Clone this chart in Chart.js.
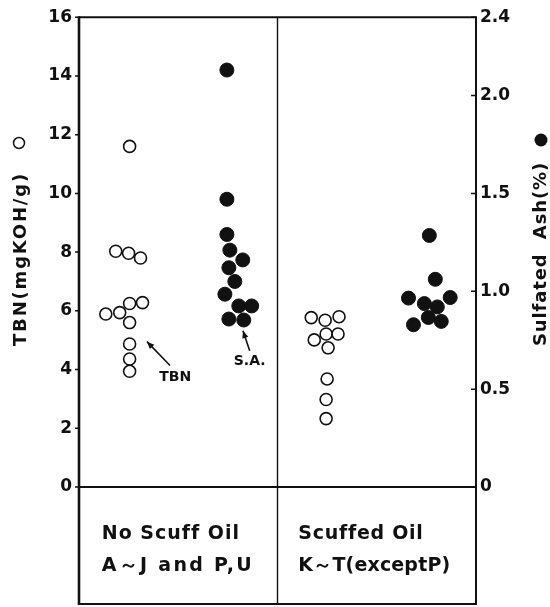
<!DOCTYPE html>
<html>
<head>
<meta charset="utf-8">
<script src="https://cdn.jsdelivr.net/npm/chart.js@4/dist/chart.umd.min.js"></script>
<style>
  html, body { margin: 0; padding: 0; background: #ffffff; }
  #wrap { width: 550px; height: 607px; }
</style>
</head>
<body>
<div id="wrap"><canvas id="c" width="550" height="607"></canvas></div>
<script>
// ---------- data ----------
const groupLabels = [['No Scuff Oil', 'A\uFF5EJ and P,U'], ['Scuffed Oil', 'K\uFF5ET(exceptP)']];
const tbnTicks = [0, 2, 4, 6, 8, 10, 12, 14, 16];
const ashTicks = [0, 0.5, 1.0, 1.5, 2.0, 2.4];
const ashTickLabels = ['0', '0.5', '1.0', '1.5', '2.0', '2.4'];

// No scuff oils (A~J and P,U): TBN (open circles, left axis)
const noScuffTbnX = [0.51, 0.37, 0.50, 0.62, 0.27, 0.41, 0.51, 0.64, 0.51, 0.51, 0.51, 0.51];
const noScuffTbnY = [11.6, 8.03, 7.96, 7.80, 5.89, 5.94, 6.25, 6.28, 5.60, 4.87, 4.36, 3.94];
// No scuff oils: sulfated ash (filled circles, right axis)
const noScuffAshX = [1.49, 1.49, 1.49, 1.52, 1.65, 1.51, 1.57, 1.47, 1.61, 1.74, 1.51, 1.66];
const noScuffAshY = [2.13, 1.47, 1.29, 1.21, 1.16, 1.12, 1.05, 0.985, 0.925, 0.925, 0.858, 0.853];
// Scuffed oils (K~T except P): TBN
const scuffTbnX = [2.34, 2.48, 2.62, 2.37, 2.49, 2.61, 2.51, 2.50, 2.49, 2.49];
const scuffTbnY = [5.77, 5.68, 5.80, 5.01, 5.21, 5.21, 4.74, 3.68, 2.98, 2.33];
// Scuffed oils: sulfated ash
const scuffAshX = [3.53, 3.59, 3.32, 3.74, 3.48, 3.61, 3.52, 3.37, 3.65];
const scuffAshY = [1.285, 1.061, 0.965, 0.968, 0.937, 0.920, 0.866, 0.829, 0.846];

// annotation anchors (data units: x, TBN)
const tbnNote = { label: 'TBN', x: 0.99, y: 3.73, fromX: 0.917, fromY: 4.14, toX: 0.685, toY: 4.95 };
const saNote  = { label: 'S.A.', x: 1.74, y: 4.27, fromX: 1.72, fromY: 4.64, toX: 1.652, toY: 5.32 };

const pts = (xs, ys) => xs.map((x, i) => ({ x: x, y: ys[i] }));
const INK = '#111111';
const FONT = 'DejaVu Sans';

function drawSpaced(ctx, text, x, y, target) {
  if ('letterSpacing' in ctx) ctx.letterSpacing = '0px';
  const w = ctx.measureText(text).width;
  if ('letterSpacing' in ctx && target) {
    ctx.letterSpacing = Math.max(0, (target - w) / text.length) + 'px';
  }
  ctx.fillText(text, x, y);
  if ('letterSpacing' in ctx) ctx.letterSpacing = '0px';
}

const framePlugin = {
  id: 'frame',
  beforeDatasetsDraw(chart) {
    const { ctx, chartArea: a, scales } = chart;
    const boxBottom = a.bottom + 117;
    const mid = scales.x.getPixelForValue(2);
    ctx.save();
    ctx.strokeStyle = INK;
    ctx.lineWidth = 2;
    ctx.beginPath();
    ctx.moveTo(a.left, a.top); ctx.lineTo(a.right, a.top);
    ctx.lineTo(a.right, boxBottom); ctx.lineTo(a.left, boxBottom);
    ctx.moveTo(a.left, a.bottom); ctx.lineTo(a.right, a.bottom);
    ctx.stroke();
    ctx.lineWidth = 2.6;
    ctx.beginPath();
    ctx.moveTo(a.left, a.top - 1); ctx.lineTo(a.left, boxBottom + 1);
    ctx.stroke();
    ctx.lineWidth = 1.4;
    ctx.beginPath();
    ctx.moveTo(mid, a.top); ctx.lineTo(mid, boxBottom);
    ctx.stroke();
    // tick marks
    ctx.lineWidth = 1.5;
    ctx.beginPath();
    tbnTicks.forEach(v => {
      const py = scales.y.getPixelForValue(v);
      ctx.moveTo(a.left - 4, py); ctx.lineTo(a.left, py);
    });
    ashTicks.forEach(v => {
      const py = scales.y2.getPixelForValue(v);
      ctx.moveTo(a.right - 5, py); ctx.lineTo(a.right, py);
    });
    ctx.stroke();
    ctx.restore();
  },
  afterDraw(chart) {
    const { ctx, chartArea: a, scales } = chart;
    ctx.save();
    ctx.fillStyle = INK;
    ctx.strokeStyle = INK;
    // axis titles (bottom-to-top) with marker keys
    ctx.font = 'bold 18px ' + FONT;
    ctx.textBaseline = 'middle';
    ctx.textAlign = 'left';
    const lx = a.left - 58, rx = a.right + 65;
    ctx.save();
    ctx.translate(lx, 346); ctx.rotate(-Math.PI / 2);
    drawSpaced(ctx, 'TBN(mgKOH/g)', 0, 0, 174);
    ctx.restore();
    ctx.save();
    ctx.translate(rx, 346); ctx.rotate(-Math.PI / 2);
    drawSpaced(ctx, 'Sulfated  Ash(%)', 0, 0, 184);
    ctx.restore();
    ctx.lineWidth = 1.5;
    ctx.beginPath(); ctx.arc(lx - 2, 143, 5.5, 0, Math.PI * 2); ctx.stroke();
    ctx.beginPath(); ctx.arc(rx, 140, 6.5, 0, Math.PI * 2); ctx.fill();

    // group labels in the lower box
    ctx.font = 'bold 19px ' + FONT;
    ctx.textAlign = 'left';
    const col = [scales.x.getPixelForValue(0.23), scales.x.getPixelForValue(2.21)];
    const widths = [[137, 152], [124, 152]];
    groupLabels.forEach((lines, g) => {
      lines.forEach((t, i) => {
        drawSpaced(ctx, t, col[g], a.bottom + 47 + i * 32, widths[g][i]);
      });
    });

    // annotations
    ctx.font = 'bold 14px ' + FONT;
    ctx.textAlign = 'center';
    [tbnNote, saNote].forEach(n => {
      const tx = scales.x.getPixelForValue(n.x), ty = scales.y.getPixelForValue(n.y);
      drawSpaced(ctx, n.label, tx - 2, ty, 0);
      const fx = scales.x.getPixelForValue(n.fromX), fy = scales.y.getPixelForValue(n.fromY);
      const ex = scales.x.getPixelForValue(n.toX), ey = scales.y.getPixelForValue(n.toY);
      ctx.lineWidth = 1.6;
      ctx.beginPath(); ctx.moveTo(fx, fy); ctx.lineTo(ex, ey); ctx.stroke();
      const ang = Math.atan2(ey - fy, ex - fx);
      ctx.beginPath();
      ctx.moveTo(ex, ey);
      ctx.lineTo(ex - 8 * Math.cos(ang - 0.4), ey - 8 * Math.sin(ang - 0.4));
      ctx.lineTo(ex - 8 * Math.cos(ang + 0.4), ey - 8 * Math.sin(ang + 0.4));
      ctx.closePath(); ctx.fill();
    });
    ctx.restore();
  }
};

const openStyle = { pointStyle: 'circle', pointRadius: 6, pointBorderWidth: 1.6, pointBackgroundColor: '#ffffff', pointBorderColor: INK, showLine: false };
const fillStyle = { pointStyle: 'circle', pointRadius: 7, pointBorderWidth: 1, pointBackgroundColor: INK, pointBorderColor: INK, showLine: false };

new Chart(document.getElementById('c'), {
  type: 'scatter',
  data: {
    datasets: [
      Object.assign({ label: 'TBN (no scuff)', data: pts(noScuffTbnX, noScuffTbnY), yAxisID: 'y' }, openStyle),
      Object.assign({ label: 'Sulfated Ash (no scuff)', data: pts(noScuffAshX, noScuffAshY), yAxisID: 'y2' }, fillStyle),
      Object.assign({ label: 'TBN (scuffed)', data: pts(scuffTbnX, scuffTbnY), yAxisID: 'y' }, openStyle),
      Object.assign({ label: 'Sulfated Ash (scuffed)', data: pts(scuffAshX, scuffAshY), yAxisID: 'y2' }, fillStyle)
    ]
  },
  options: {
    responsive: false,
    animation: false,
    devicePixelRatio: 1,
    layout: { padding: { top: 15, bottom: 120, left: 0, right: 0 } },
    plugins: { legend: { display: false }, tooltip: { enabled: false } },
    events: [],
    scales: {
      x: { type: 'linear', min: 0, max: 4, display: false },
      y: {
        position: 'left', min: 0, max: 16,
        afterBuildTicks: s => { s.ticks = tbnTicks.map(v => ({ value: v })); },
        afterFit: s => { s.width = 79; },
        grid: { display: false, drawTicks: false }, border: { display: false },
        ticks: { color: INK, padding: 7, font: { family: FONT, weight: 'bold', size: 17 } }
      },
      y2: {
        position: 'right', min: 0, max: 2.4,
        afterBuildTicks: s => { s.ticks = ashTicks.map(v => ({ value: v })); },
        afterFit: s => { s.width = 74; },
        grid: { display: false, drawTicks: false }, border: { display: false },
        ticks: {
          color: INK, padding: 4, font: { family: FONT, weight: 'bold', size: 17 },
          callback: v => ashTickLabels[ashTicks.indexOf(v)]
        }
      }
    }
  },
  plugins: [framePlugin]
});
</script>
</body>
</html>
